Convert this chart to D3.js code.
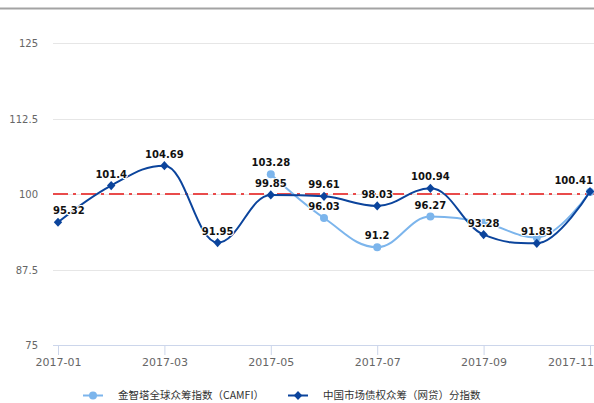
<!DOCTYPE html>
<html><head><meta charset="utf-8">
<script src="https://cdn.jsdelivr.net/npm/d3@7"></script>
<style>
html,body{margin:0;padding:0;background:#fff;}
svg{display:block;}
</style></head>
<body>
<svg id="chart" width="594" height="403"></svg>
<script>
// ---- data ----
const months = ["2017-01","2017-02","2017-03","2017-04","2017-05","2017-06","2017-07","2017-08","2017-09","2017-10","2017-11"];
const tickMonths = ["2017-01","2017-03","2017-05","2017-07","2017-09","2017-11"];
const camfiValues = [null, null, null, null, 103.28, 96.03, 91.2, 96.27, 95.25, 92.8, 100.35];
const camfiLabelShown = [false, false, false, false, true, true, true, true, false, false, false];
const debtValues = [95.32, 101.4, 104.69, 91.95, 99.85, 99.61, 98.03, 100.94, 93.28, 91.83, 100.41];
const yTicks = [75, 87.5, 100, 112.5, 125];
const refValue = 100;
const seriesNames = ["金智塔全球众筹指数（CAMFI）", "中国市场债权众筹（网贷）分指数"];

// ---- layout ----
const W = 594, H = 403;
const plotLeft = 53, plotRight = 594, plotTop = 43, plotBottom = 345;
const colLight = "#7cb5ec", colDark = "#0b449c";
const svg = d3.select("#chart");

const x = d3.scalePoint().domain(months).range([58, 590]);
const y = d3.scaleLinear().domain([75, 125]).range([plotBottom, plotTop]);

// top border
svg.append("line").attr("x1", 0).attr("x2", W).attr("y1", 8.5).attr("y2", 8.5)
  .attr("stroke", "#a3a3a3").attr("stroke-width", 2);

// grid
svg.append("g").selectAll("line").data(yTicks.filter(t => t !== 75)).join("line")
  .attr("x1", plotLeft).attr("x2", plotRight)
  .attr("y1", d => Math.round(y(d)) + 0.5).attr("y2", d => Math.round(y(d)) + 0.5)
  .attr("stroke", "#e6e6e6").attr("stroke-width", 1);

// y labels
svg.append("g").selectAll("text").data(yTicks).join("text")
  .attr("x", 38).attr("y", d => y(d) + 4)
  .attr("text-anchor", "end")
  .attr("font-family", "DejaVu Sans").attr("font-size", 10).attr("fill", "#666")
  .text(d => d);

// x axis
const xAxis = d3.axisBottom(x).tickValues(tickMonths).tickSize(10).tickPadding(3);
const gx = svg.append("g").attr("transform", `translate(0,${plotBottom})`).call(xAxis);
gx.select(".domain").attr("d", `M${plotLeft},0.5H${plotRight}`).attr("stroke", "#ccd6eb");
gx.selectAll(".tick line").attr("stroke", "#ccd6eb");
gx.selectAll(".tick text").attr("font-family", "DejaVu Sans").attr("font-size", 11).attr("fill", "#666");
// justify overflowing tick labels inside the chart
gx.selectAll(".tick text").each(function () {
  const el = d3.select(this);
  const tick = this.parentNode;
  const tx = +tick.getAttribute("transform").match(/translate\(([-\d.]+)/)[1];
  const w = this.getComputedTextLength();
  if (tx + w / 2 > W) el.attr("text-anchor", "end").attr("x", W - tx);
});

// reference line
svg.append("line").attr("x1", plotLeft).attr("x2", plotRight)
  .attr("y1", y(refValue)).attr("y2", y(refValue))
  .attr("stroke", "#e94b4b").attr("stroke-width", 2)
  .attr("stroke-dasharray", "15,5,3,5");

// Highcharts-like spline curve
function hcSpline(context) {
  let pts = [];
  return {
    areaStart() {}, areaEnd() {},
    lineStart() { pts = []; },
    point(px, py) { pts.push([+px, +py]); },
    lineEnd() {
      const n = pts.length;
      if (!n) return;
      const sm = 1.5, den = 2.5;
      const ctrl = pts.map((p, i) => {
        if (i === 0 || i === n - 1) return null;
        const [lx, ly] = pts[i - 1], [nx, ny] = pts[i + 1], [px, py] = p;
        let lcx = (sm * px + lx) / den, lcy = (sm * py + ly) / den;
        let rcx = (sm * px + nx) / den, rcy = (sm * py + ny) / den;
        if (rcx !== lcx) {
          const corr = ((rcy - lcy) * (rcx - px)) / (rcx - lcx) + py - rcy;
          lcy += corr; rcy += corr;
        }
        if (lcy > ly && lcy > py) { lcy = Math.max(ly, py); rcy = 2 * py - lcy; }
        else if (lcy < ly && lcy < py) { lcy = Math.min(ly, py); rcy = 2 * py - lcy; }
        if (rcy > ny && rcy > py) { rcy = Math.max(ny, py); lcy = 2 * py - rcy; }
        else if (rcy < ny && rcy < py) { rcy = Math.min(ny, py); lcy = 2 * py - rcy; }
        return { lcx, lcy, rcx, rcy };
      });
      context.moveTo(pts[0][0], pts[0][1]);
      for (let i = 1; i < n; i++) {
        const a = ctrl[i - 1], b = ctrl[i];
        const c1x = a ? a.rcx : pts[i - 1][0], c1y = a ? a.rcy : pts[i - 1][1];
        const c2x = b ? b.lcx : pts[i][0], c2y = b ? b.lcy : pts[i][1];
        context.bezierCurveTo(c1x, c1y, c2x, c2y, pts[i][0], pts[i][1]);
      }
    }
  };
}

const line = d3.line()
  .defined(d => d.v != null)
  .x(d => x(d.m)).y(d => y(d.v))
  .curve(hcSpline);

const camfi = months.map((m, i) => ({ m, v: camfiValues[i], show: camfiLabelShown[i] }));
const debt = months.map((m, i) => ({ m, v: debtValues[i], show: true }));

// light series
svg.append("path").datum(camfi).attr("d", line)
  .attr("fill", "none").attr("stroke", colLight).attr("stroke-width", 2);
svg.append("g").selectAll("circle").data(camfi.filter(d => d.v != null)).join("circle")
  .attr("cx", d => x(d.m)).attr("cy", d => y(d.v)).attr("r", 4).attr("fill", colLight);

// dark series
svg.append("path").datum(debt).attr("d", line)
  .attr("fill", "none").attr("stroke", colDark).attr("stroke-width", 2);
svg.append("g").selectAll("path").data(debt).join("path")
  .attr("transform", d => `translate(${x(d.m)},${y(d.v)})`)
  .attr("d", "M0,-4.6L4.2,0L0,4.6L-4.2,0Z")
  .attr("fill", colDark);

// data labels
const labels = svg.append("g");
[...camfi.filter(d => d.v != null && d.show), ...debt].forEach(d => {
  const t = labels.append("text")
    .attr("x", x(d.m)).attr("y", y(d.v) - 8)
    .attr("text-anchor", "middle")
    .attr("font-family", "DejaVu Sans").attr("font-weight", "bold").attr("font-size", 10)
    .attr("fill", "#111")
    .attr("stroke", "#fff").attr("stroke-width", 2).attr("paint-order", "stroke")
    .attr("stroke-linejoin", "round")
    .text(d.v);
  const w = t.node().getComputedTextLength();
  let cx = x(d.m);
  if (cx - w / 2 < plotLeft) cx = plotLeft + w / 2;
  if (cx + w / 2 > plotRight - 1) cx = plotRight - 1 - w / 2;
  t.attr("x", cx);
});

// legend
const legend = svg.append("g").attr("font-family", "Noto Sans CJK SC, DejaVu Sans").attr("font-size", 10.5).attr("fill", "#333");
const legY = 395.5;
// item 1
legend.append("line").attr("x1", 83).attr("x2", 103).attr("y1", legY).attr("y2", legY)
  .attr("stroke", colLight).attr("stroke-width", 2);
legend.append("circle").attr("cx", 93).attr("cy", legY).attr("r", 4).attr("fill", colLight);
legend.append("text").attr("x", 118).attr("y", legY + 3.8).text(seriesNames[0]);
// item 2
legend.append("line").attr("x1", 288).attr("x2", 308).attr("y1", legY).attr("y2", legY)
  .attr("stroke", colDark).attr("stroke-width", 2);
legend.append("path").attr("transform", `translate(298,${legY})`)
  .attr("d", "M0,-4.6L4.2,0L0,4.6L-4.2,0Z").attr("fill", colDark);
legend.append("text").attr("x", 323).attr("y", legY + 3.8).text(seriesNames[1]);
</script>
</body></html>
